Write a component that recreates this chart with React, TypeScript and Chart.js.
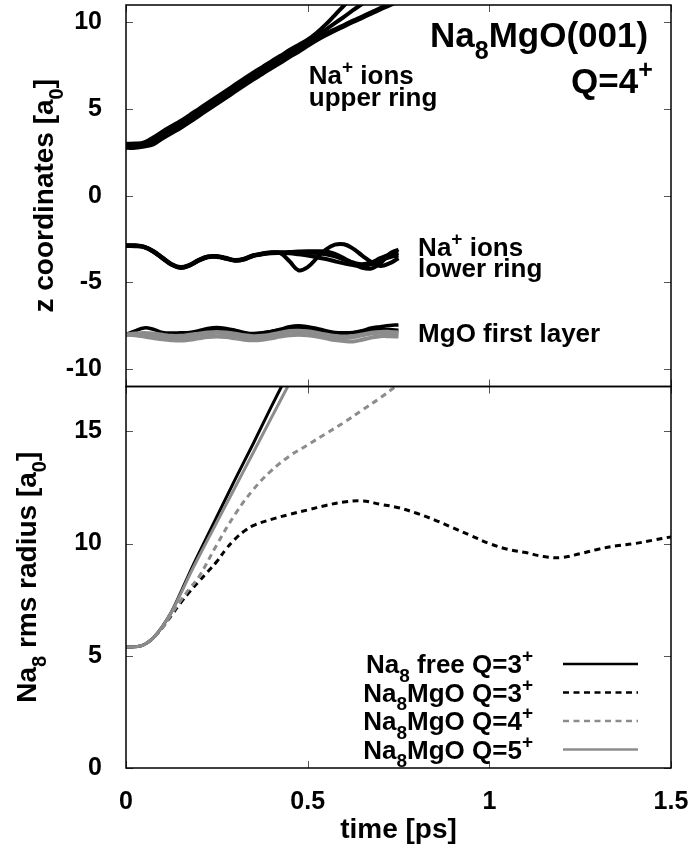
import React, { useEffect, useRef } from "react";
import { Chart, registerables } from "chart.js";

Chart.register(...registerables);

// ---------------- data ----------------
const xTicks = [0, 0.5, 1, 1.5];
const yTopTicks = [-10, -5, 0, 5, 10];
const yBottomTicks = [0, 5, 10, 15];

// time grid for the z-coordinate panel (ps)
const tTop = [
  0, 0.025, 0.05, 0.075, 0.1, 0.125, 0.15, 0.175, 0.2, 0.225, 0.25, 0.275, 0.3, 0.325, 0.35, 0.375,
  0.4, 0.425, 0.45, 0.475, 0.5, 0.525, 0.55, 0.575, 0.6, 0.625, 0.65, 0.675, 0.7, 0.725, 0.75,
];

// Na+ ions, upper ring (4 ions)
const upperA = [3.0, 3.01, 3.08, 3.36, 3.7, 4.01, 4.31, 4.65, 5.0, 5.35, 5.7, 6.05, 6.4, 6.75, 7.1, 7.42, 7.75, 8.07, 8.4, 8.7, 9.0, 9.4, 9.88, 10.42, 10.97, 11.5, 12.05, 12.6, 13.15, 13.7, 14.25];
const upperB = [2.92, 2.93, 3.0, 3.23, 3.57, 3.88, 4.18, 4.52, 4.87, 5.22, 5.57, 5.92, 6.27, 6.62, 6.97, 7.29, 7.62, 7.94, 8.27, 8.57, 8.88, 9.22, 9.58, 9.95, 10.32, 10.7, 11.07, 11.45, 11.82, 12.2, 12.57];
const upperC = [2.84, 2.85, 2.92, 3.09, 3.43, 3.74, 4.04, 4.38, 4.73, 5.08, 5.43, 5.78, 6.13, 6.48, 6.83, 7.15, 7.48, 7.8, 8.13, 8.43, 8.76, 9.06, 9.34, 9.6, 9.85, 10.1, 10.34, 10.58, 10.82, 11.05, 11.28];
const upperD = [2.76, 2.77, 2.84, 2.96, 3.3, 3.61, 3.91, 4.25, 4.6, 4.95, 5.3, 5.65, 6.0, 6.35, 6.7, 7.02, 7.35, 7.67, 8.0, 8.3, 8.64, 8.96, 9.25, 9.52, 9.77, 10.02, 10.26, 10.5, 10.74, 10.97, 11.2];

// Na+ ions, lower ring (4 ions)
const lowerA = [-2.85, -2.86, -2.93, -3.18, -3.56, -3.93, -4.11, -3.98, -3.7, -3.5, -3.48, -3.58, -3.7, -3.63, -3.43, -3.33, -3.26, -3.32, -3.78, -4.3, -4.12, -3.6, -3.1, -2.82, -2.8, -3.05, -3.45, -3.82, -4.05, -3.9, -3.6];
const lowerB = [-2.88, -2.89, -2.96, -3.21, -3.59, -3.96, -4.14, -4.01, -3.73, -3.53, -3.51, -3.61, -3.73, -3.66, -3.46, -3.36, -3.29, -3.26, -3.25, -3.22, -3.2, -3.2, -3.22, -3.35, -3.6, -3.9, -4.15, -4.2, -3.9, -3.35, -3.1];
const lowerC = [-2.9, -2.91, -2.98, -3.23, -3.61, -3.98, -4.16, -4.03, -3.75, -3.55, -3.53, -3.63, -3.75, -3.68, -3.48, -3.38, -3.31, -3.3, -3.32, -3.38, -3.45, -3.55, -3.65, -3.78, -3.9, -4.0, -4.05, -3.95, -3.75, -3.55, -3.45];
const lowerD = [-2.87, -2.88, -2.95, -3.2, -3.58, -3.95, -4.13, -4.0, -3.72, -3.52, -3.5, -3.6, -3.72, -3.65, -3.45, -3.35, -3.28, -3.28, -3.28, -3.28, -3.28, -3.3, -3.38, -3.5, -3.68, -3.85, -3.95, -3.85, -3.6, -3.4, -3.3];

// MgO first layer (black and grey atoms)
const mgoBlack1 = [-8.0, -7.8, -7.62, -7.7, -7.88, -7.92, -7.9, -7.88, -7.78, -7.65, -7.6, -7.65, -7.75, -7.88, -7.95, -7.9, -7.82, -7.7, -7.55, -7.5, -7.55, -7.65, -7.78, -7.88, -7.9, -7.88, -7.78, -7.62, -7.55, -7.48, -7.45];
const mgoBlack2 = [-8.0, -7.98, -7.95, -7.98, -8.05, -8.12, -8.1, -8.0, -7.88, -7.78, -7.75, -7.8, -7.9, -8.0, -8.0, -7.92, -7.82, -7.72, -7.65, -7.62, -7.68, -7.8, -7.9, -7.95, -7.95, -7.9, -7.82, -7.75, -7.72, -7.72, -7.75];
const mgoGrey1 = [-8.0, -8.02, -8.05, -8.1, -8.15, -8.18, -8.15, -8.1, -8.02, -7.95, -7.9, -7.95, -8.05, -8.15, -8.2, -8.15, -8.05, -7.95, -7.85, -7.82, -7.85, -7.95, -8.05, -8.15, -8.2, -8.15, -8.05, -7.95, -7.9, -7.92, -7.95];
const mgoGrey2 = [-8.0, -8.05, -8.12, -8.2, -8.28, -8.33, -8.35, -8.3, -8.22, -8.15, -8.12, -8.15, -8.22, -8.3, -8.33, -8.3, -8.22, -8.12, -8.05, -8.02, -8.05, -8.12, -8.22, -8.32, -8.38, -8.4, -8.3, -8.18, -8.1, -8.1, -8.12];
const mgoGrey3 = [-8.0, -7.95, -7.92, -7.95, -8.02, -8.08, -8.08, -8.02, -7.95, -7.88, -7.85, -7.88, -7.95, -8.05, -8.1, -8.08, -8.0, -7.9, -7.8, -7.78, -7.82, -7.9, -8.0, -8.08, -8.12, -8.08, -8.0, -7.9, -7.85, -7.85, -7.88];

// rms radius panel
const seriesNames = [
  "Na_{8} free Q=3^{+}",
  "Na_{8}MgO Q=3^{+}",
  "Na_{8}MgO Q=4^{+}",
  "Na_{8}MgO Q=5^{+}",
];
const tFree = [0, 0.025, 0.05, 0.075, 0.1, 0.125, 0.15, 0.175, 0.2, 0.25, 0.3, 0.35, 0.4, 0.45, 0.5];
const rFree = [5.4, 5.4, 5.5, 5.8, 6.3, 6.95, 7.8, 8.7, 9.55, 11.2, 12.85, 14.45, 16.1, 17.7, 19.3];
const tQ5 = [0, 0.025, 0.05, 0.075, 0.1, 0.125, 0.15, 0.175, 0.2, 0.25, 0.3, 0.35, 0.4, 0.45, 0.5];
const rQ5 = [5.4, 5.4, 5.5, 5.8, 6.3, 6.95, 7.75, 8.6, 9.4, 10.95, 12.5, 14.05, 15.6, 17.15, 18.7];
const tQ4 = [0, 0.025, 0.05, 0.075, 0.1, 0.125, 0.15, 0.175, 0.2, 0.25, 0.3, 0.35, 0.4, 0.45, 0.5, 0.55, 0.6, 0.65, 0.7, 0.75];
const rQ4 = [5.4, 5.4, 5.5, 5.8, 6.25, 6.85, 7.45, 8.0, 8.5, 9.95, 11.3, 12.4, 13.25, 13.9, 14.4, 14.9, 15.4, 15.95, 16.5, 17.1];
const tQ3 = [
  0, 0.025, 0.05, 0.075, 0.1, 0.125, 0.15, 0.175, 0.2, 0.225, 0.25, 0.275, 0.3, 0.325, 0.35, 0.4, 0.45, 0.5,
  0.55, 0.6, 0.65, 0.7, 0.75, 0.8, 0.85, 0.9, 0.95, 1.0, 1.05, 1.1, 1.15, 1.2, 1.25, 1.3, 1.35, 1.4, 1.45, 1.5,
];
const rQ3 = [
  5.4, 5.4, 5.5, 5.8, 6.25, 6.8, 7.35, 7.85, 8.3, 8.75, 9.2, 9.75, 10.2, 10.55, 10.8, 11.08, 11.3, 11.5,
  11.7, 11.85, 11.9, 11.75, 11.6, 11.35, 11.05, 10.7, 10.35, 10.0, 9.75, 9.6, 9.42, 9.38, 9.55, 9.75, 9.9, 10.0, 10.15, 10.3,
];

// ---------------- styling helpers ----------------
const BLACK = "#000000";
const GREY = "#8c8c8c";
const FONT = '"Liberation Sans", Arial, Helvetica, sans-serif';

const pts = (xs: number[], ys: number[]) => xs.map((x, i) => ({ x, y: ys[i] }));

function parseRich(s: string) {
  const segs: { t: string; k: number }[] = [];
  let buf = "";
  let i = 0;
  while (i < s.length) {
    const c = s[i];
    if ((c === "_" || c === "^") && s[i + 1] === "{") {
      if (buf) {
        segs.push({ t: buf, k: 0 });
        buf = "";
      }
      const end = s.indexOf("}", i);
      segs.push({ t: s.slice(i + 2, end), k: c === "_" ? -1 : 1 });
      i = end + 1;
    } else {
      buf += c;
      i++;
    }
  }
  if (buf) segs.push({ t: buf, k: 0 });
  return segs;
}

function drawRich(ctx: CanvasRenderingContext2D, s: string, x: number, y: number, size: number, align: "left" | "right" | "center") {
  const segs = parseRich(s);
  const small = Math.round(size * 0.72);
  const f = (px: number) => `bold ${px}px ${FONT}`;
  let w = 0;
  for (const sg of segs) {
    ctx.font = f(sg.k ? small : size);
    w += ctx.measureText(sg.t).width;
  }
  let cx = align === "right" ? x - w : align === "center" ? x - w / 2 : x;
  ctx.textAlign = "left";
  ctx.textBaseline = "alphabetic";
  for (const sg of segs) {
    ctx.font = f(sg.k ? small : size);
    const dy = sg.k === -1 ? size * 0.34 : sg.k === 1 ? -size * 0.42 : 0;
    ctx.fillText(sg.t, cx, y + dy);
    cx += ctx.measureText(sg.t).width;
  }
}

const clipPlugin = {
  id: "panelClip",
  beforeDatasetDraw(chart: any, args: any) {
    const ds = chart.data.datasets[args.index];
    const s = chart.scales[ds.yAxisID];
    const ca = chart.chartArea;
    const ctx = chart.ctx;
    ctx.save();
    ctx.beginPath();
    ctx.rect(ca.left, s.top, ca.right - ca.left, s.bottom - s.top);
    ctx.clip();
  },
  afterDatasetDraw(chart: any) {
    chart.ctx.restore();
  },
};

const decorPlugin = {
  id: "decor",
  afterDraw(chart: any) {
    const { ctx, chartArea: ca, scales } = chart;
    const xs = scales.x;
    const yt = scales.yt;
    const yb = scales.yb;
    ctx.save();

    // inward tick marks
    ctx.strokeStyle = "#555";
    ctx.lineWidth = 1;
    const TL = 7;
    const panels: [any, number[]][] = [
      [yt, yTopTicks],
      [yb, yBottomTicks],
    ];
    for (const [s, tv] of panels) {
      ctx.beginPath();
      for (const v of tv) {
        const py = Math.round(s.getPixelForValue(v)) + 0.5;
        ctx.moveTo(ca.left, py);
        ctx.lineTo(ca.left + TL, py);
        ctx.moveTo(ca.right, py);
        ctx.lineTo(ca.right - TL, py);
      }
      for (const v of xTicks) {
        const px = Math.round(xs.getPixelForValue(v)) + 0.5;
        ctx.moveTo(px, s.top);
        ctx.lineTo(px, s.top + TL);
        ctx.moveTo(px, s.bottom);
        ctx.lineTo(px, s.bottom - TL);
      }
      ctx.stroke();
    }

    // panel frames
    ctx.strokeStyle = BLACK;
    ctx.lineWidth = 1.5;
    for (const [s] of panels) {
      ctx.strokeRect(ca.left, s.top, ca.right - ca.left, s.bottom - s.top);
    }

    ctx.fillStyle = BLACK;
    const X = (v: number) => xs.getPixelForValue(v);
    const YT = (v: number) => yt.getPixelForValue(v);

    // top panel annotations
    drawRich(ctx, "Na_{8}MgO(001)", X(1.437), YT(8.6), 35, "right");
    drawRich(ctx, "Q=4^{+}", X(1.45), YT(5.95), 35, "right");
    drawRich(ctx, "Na^{+} ions", X(0.503), YT(6.45), 26, "left");
    drawRich(ctx, "upper ring", X(0.503), YT(5.2), 26, "left");
    drawRich(ctx, "Na^{+} ions", X(0.804), YT(-3.45), 26, "left");
    drawRich(ctx, "lower ring", X(0.804), YT(-4.71), 26, "left");
    drawRich(ctx, "MgO first layer", X(0.804), YT(-8.43), 26, "left");

    // legend (bottom right of the lower panel)
    const styles = [
      { c: BLACK, d: [] as number[] },
      { c: BLACK, d: [6, 4.5] },
      { c: GREY, d: [6, 4.5] },
      { c: GREY, d: [] as number[] },
    ];
    seriesNames.forEach((name, i) => {
      const cy = yb.bottom - 104 + i * 28.5;
      drawRich(ctx, name, ca.right - 138, cy + 9, 26, "right");
      ctx.beginPath();
      ctx.setLineDash(styles[i].d);
      ctx.strokeStyle = styles[i].c;
      ctx.lineWidth = 2.5;
      ctx.moveTo(ca.right - 108, cy);
      ctx.lineTo(ca.right - 33, cy);
      ctx.stroke();
      ctx.setLineDash([]);
    });

    // axis titles
    ctx.fillStyle = BLACK;
    drawRich(ctx, "time [ps]", (ca.left + ca.right) / 2, 838, 28, "center");
    ctx.save();
    ctx.translate(53, (yt.top + yt.bottom) / 2);
    ctx.rotate(-Math.PI / 2);
    drawRich(ctx, "z coordinates [a_{0}]", 0, 0, 28, "center");
    ctx.restore();
    ctx.save();
    ctx.translate(36, (yb.top + yb.bottom) / 2);
    ctx.rotate(-Math.PI / 2);
    drawRich(ctx, "Na_{8} rms radius [a_{0}]", 0, 0, 28, "center");
    ctx.restore();

    ctx.restore();
  },
};

function line(data: { x: number; y: number }[], axis: string, color: string, width: number, dash: number[], order: number) {
  return {
    data,
    yAxisID: axis,
    borderColor: color,
    backgroundColor: color,
    borderWidth: width,
    borderDash: dash,
    pointRadius: 0,
    tension: 0.4,
    fill: false,
    order,
  };
}

export default function App() {
  const ref = useRef<HTMLCanvasElement | null>(null);

  useEffect(() => {
    if (!ref.current) return;
    const datasets = [
      line(pts(tTop, upperA), "yt", BLACK, 4, [], 5),
      line(pts(tTop, upperB), "yt", BLACK, 4, [], 5),
      line(pts(tTop, upperC), "yt", BLACK, 4, [], 5),
      line(pts(tTop, upperD), "yt", BLACK, 4, [], 5),
      line(pts(tTop, lowerA), "yt", BLACK, 4, [], 5),
      line(pts(tTop, lowerB), "yt", BLACK, 4, [], 5),
      line(pts(tTop, lowerC), "yt", BLACK, 4, [], 5),
      line(pts(tTop, lowerD), "yt", BLACK, 4, [], 5),
      line(pts(tTop, mgoBlack1), "yt", BLACK, 3.5, [], 5),
      line(pts(tTop, mgoBlack2), "yt", BLACK, 3.5, [], 5),
      line(pts(tTop, mgoGrey1), "yt", GREY, 4, [], 2),
      line(pts(tTop, mgoGrey2), "yt", GREY, 4, [], 2),
      line(pts(tTop, mgoGrey3), "yt", GREY, 4, [], 2),
      line(pts(tFree, rFree), "yb", BLACK, 3, [], 4),
      line(pts(tQ3, rQ3), "yb", BLACK, 3, [6, 4.5], 3),
      line(pts(tQ4, rQ4), "yb", GREY, 3, [6, 4.5], 2),
      line(pts(tQ5, rQ5), "yb", GREY, 3, [], 1),
    ];

    const zeroPad = (s: any) => {
      s.paddingTop = 0;
      s.paddingBottom = 0;
      s.paddingLeft = 0;
      s.paddingRight = 0;
    };
    const tickFont = { family: FONT, size: 25, weight: "bold" as const };

    const chart = new Chart(ref.current, {
      type: "line",
      data: { datasets: datasets as any },
      options: {
        animation: false,
        responsive: false,
        maintainAspectRatio: false,
        devicePixelRatio: 1,
        layout: { padding: { left: 0, right: 25, top: 5, bottom: 0 } },
        plugins: { legend: { display: false }, tooltip: { enabled: false }, title: { display: false } },
        scales: {
          x: {
            type: "linear",
            position: "bottom",
            min: 0,
            max: 1.5,
            grid: { display: false },
            border: { display: false },
            ticks: { color: BLACK, font: tickFont, padding: 11, maxRotation: 0, callback: (v: any) => String(v) },
            afterBuildTicks: (s: any) => {
              s.ticks = xTicks.map((v) => ({ value: v }));
            },
            afterFit: (s: any) => {
              s.height = 91;
              zeroPad(s);
            },
          },
          yb: {
            type: "linear",
            position: "left",
            stack: "panels",
            stackWeight: 1,
            min: 0,
            max: 17,
            grid: { display: false },
            border: { display: false },
            ticks: { color: BLACK, font: tickFont, padding: 16, callback: (v: any) => String(v) },
            afterBuildTicks: (s: any) => {
              s.ticks = yBottomTicks.map((v) => ({ value: v }));
            },
            afterFit: (s: any) => {
              s.width = 126;
              zeroPad(s);
            },
          },
          yt: {
            type: "linear",
            position: "left",
            stack: "panels",
            stackWeight: 1,
            min: -11,
            max: 11,
            grid: { display: false },
            border: { display: false },
            ticks: { color: BLACK, font: tickFont, padding: 16, callback: (v: any) => String(v) },
            afterBuildTicks: (s: any) => {
              s.ticks = yTopTicks.map((v) => ({ value: v }));
            },
            afterFit: (s: any) => {
              s.width = 126;
              zeroPad(s);
            },
          },
        } as any,
      },
      plugins: [clipPlugin, decorPlugin],
    });
    return () => chart.destroy();
  }, []);

  return (
    <div style={{ position: "absolute", left: 0, top: 0, width: 696, height: 859, background: "#fff" }}>
      <canvas ref={ref} width={696} height={859} style={{ display: "block", width: 696, height: 859 }} />
    </div>
  );
}
